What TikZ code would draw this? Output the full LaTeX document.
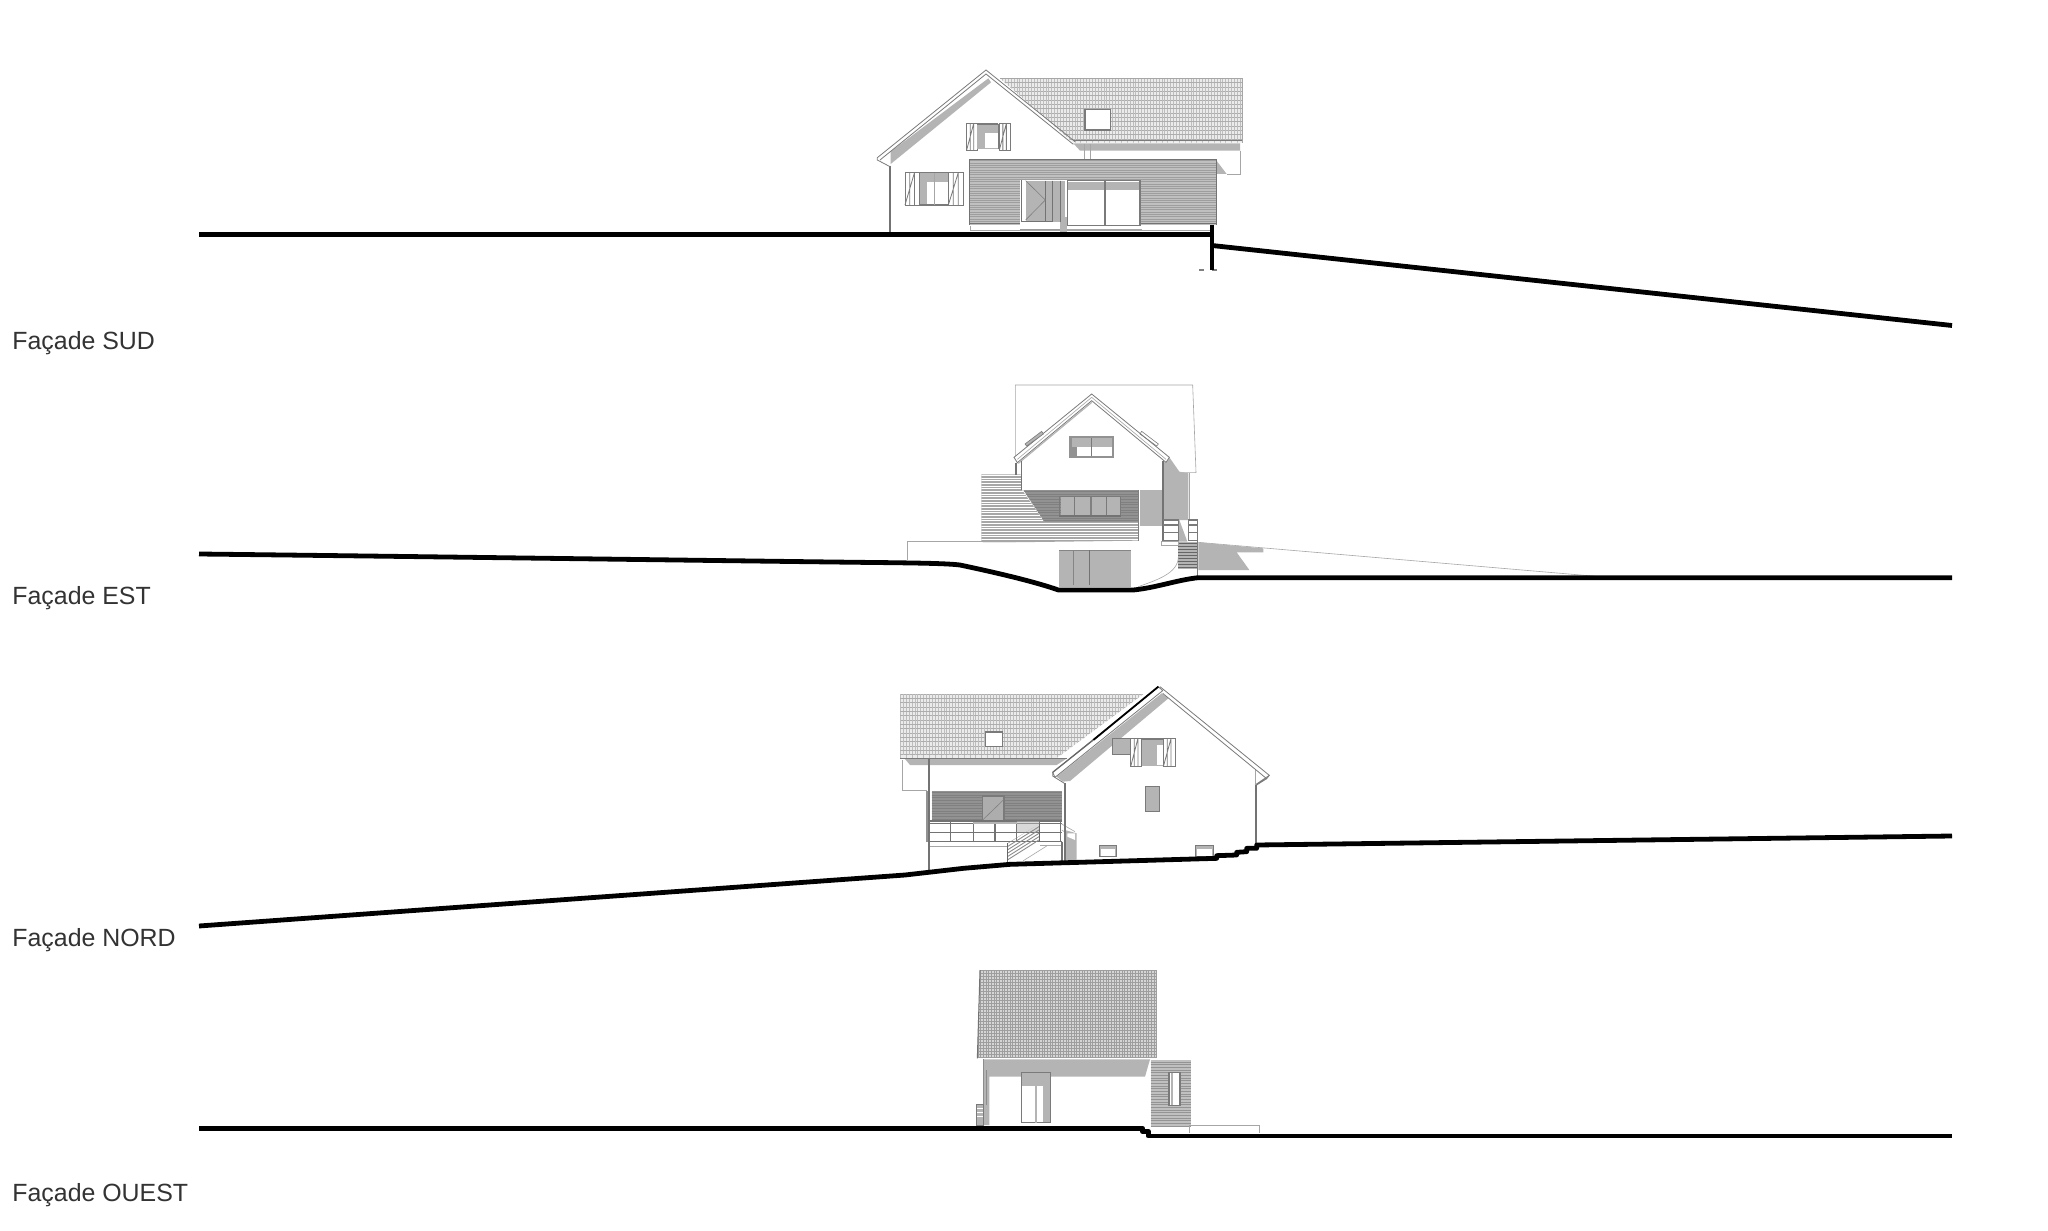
\documentclass[tikz,border=0pt]{standalone}
\usepackage{fontspec}
\setmainfont{Liberation Sans}
\definecolor{greyfill}{HTML}{B4B4B4}
\definecolor{wood}{HTML}{C0C0C0}
\definecolor{woodlight}{HTML}{A6A6A6}
\definecolor{darkwood}{HTML}{929292}
\definecolor{edge}{HTML}{7A7A7A}
\definecolor{labeltext}{HTML}{333333}
\tikzset{
  ground/.style={line width=2.4pt,black,line join=round},
  facadelabel/.style={anchor=west,inner sep=0pt,text=labeltext,font=\fontsize{12.45}{14}\selectfont},
  shadefill/.style={fill=greyfill,draw=none},
  thinline/.style={draw=black!35,line width=.3pt},
  outline/.style={draw=edge,line width=.4pt},
  frame/.style={draw=edge,line width=.7pt},
  post/.style={draw=black!55,line width=.9pt},
}
% horizontal stripes on a box: x1 x2 y1 y2 step colour
\newcommand{\stripebox}[6]{%
  \pgfmathsetmacro{\nexty}{#3+#5}%
  \foreach \yy in {#3,\nexty,...,#4}{\draw[#6,line width=.3pt] (#1,\yy) -- (#2,\yy);}}
% brick roof hatching, region given by clip path
\newcommand{\brickroof}[5]{%
  \begin{scope}
    \clip #5;
    \fill[black!8] (#1,#3) rectangle (#2,#4);
    \pgfmathsetmacro{\nexty}{#3+13}%
    \foreach \yy in {#3,\nexty,...,#4}{%
      \draw[black!32,line width=.25pt] (#1,\yy) -- (#2,\yy);
      \draw[black!26,line width=2pt,dash pattern=on .3pt off 2.6pt] (#1,\yy+6.5) -- (#2,\yy+6.5);
      \draw[black!26,line width=2pt,dash pattern=on .3pt off 2.6pt,dash phase=1.45pt] (#1,\yy-6.5) -- (#2,\yy-6.5);
    }
  \end{scope}}
% shutter: x1 y1 x2 y2
\newcommand{\shutter}[4]{%
  \draw[outline,fill=white] (#1,#2) rectangle (#3,#4);
  \pgfmathsetmacro{\sa}{#1+(#3-#1)*.33}\pgfmathsetmacro{\sb}{#1+(#3-#1)*.66}%
  \draw[outline] (\sa,#2) -- (\sa,#4) (\sb,#2) -- (\sb,#4) (#1,#4) -- (\sb,#2);}
\begin{document}
\begin{tikzpicture}[x=0.5pt,y=-0.5pt]
\useasboundingbox (0,0) rectangle (2048,1230);
\fill[white] (0,0) rectangle (2048,1230);

%% ---------- SUD ----------
\begin{scope}[shift={(860,50)},scale=1/3]
  \brickroof{400}{1146}{85}{278}{(420,85) -- (1146,85) -- (1146,278) -- (640,278) -- cycle}
  \draw[thinline] (420,85) -- (1146,85) -- (1146,278);
  \draw[outline] (640,272) -- (1146,272);
  \fill[shadefill] (640,280) -- (1140,280) -- (1140,302) -- (660,302) -- cycle;
  \draw[thinline] (672,282) -- (672,328) (692,282) -- (692,328);
  \draw[thinline] (1142,302) -- (1142,372) -- (1100,372);
  \fill[shadefill] (1068,330) -- (1100,372) -- (1068,372) -- cycle;
  \draw[frame,fill=white] (675,178) rectangle (752,240);
  % gable
  \fill[shadefill] (92,305) -- (385,85) -- (393,97) -- (92,342) -- cycle;
  \draw[outline] (52,323) -- (378,60) -- (645,275);
  \draw[outline] (60,330) -- (378,72) -- (640,283);
  \draw[outline] (52,323) -- (52,330) -- (90,350);
  \draw[post] (90,348) -- (90,545);
  % wood
  \fill[wood] (328,328) rectangle (1068,525);
  \stripebox{328}{1068}{332}{524}{7}{black!38}
  \draw[black!55,line width=.5pt] (328,328) -- (1068,328) (328,522) -- (1068,522) (328,328) -- (328,525) (1068,328) -- (1068,525);
  \draw[thinline] (332,528) -- (332,540) -- (1050,540);
  % door
  \fill[white] (480,390) rectangle (622,540);
  \fill[greyfill] (497,392) rectangle (615,515);
  \fill[greyfill] (600,500) rectangle (620,545);
  \draw[black!55,line width=.45pt] (484,390) -- (484,515) -- (578,515) (578,392) -- (578,515) (556,392) -- (556,515) (600,392) -- (600,515);
  \draw[black!50,line width=.3pt] (497,392) -- (556,450) -- (497,510);
  \draw[black!40,line width=.3pt] (480,538) -- (600,538);
  % bay
  \fill[white] (622,392) rectangle (840,527);
  \fill[greyfill] (624,396) rectangle (838,420);
  \draw[frame] (622,392) rectangle (840,527);
  \draw[frame] (735,392) -- (735,527);
  \draw[thinline] (622,538) -- (845,538);
  % upper window
  \shutter{320}{220}{352}{300}
  \shutter{418}{220}{450}{300}
  \fill[greyfill] (352,222) rectangle (415,298);
  \fill[white] (375,250) rectangle (413,295);
  \draw[frame] (352,222) -- (415,222) (415,222) -- (415,298);
  % lower window
  \shutter{135}{368}{178}{465}
  \shutter{265}{368}{310}{465}
  \fill[white] (178,368) rectangle (265,465);
  \fill[greyfill] (180,370) rectangle (265,396);
  \fill[greyfill] (180,370) rectangle (200,465);
  \draw[frame] (178,368) rectangle (265,465);
  \draw[thinline] (222,370) -- (222,465);
  % terrain marks
  \draw[black!50,line width=.7pt,dash pattern=on 2.5pt off 4pt] (1018,660) -- (1092,660);
\end{scope}
\draw[ground] (199,234.5) -- (1212,234.5);
\draw[ground] (1212,225) -- (1212,270);
\draw[ground] (1212,245.5) -- (1952,325.5);

%% ---------- EST ----------
\begin{scope}[shift={(890,370)},scale=1/3]
  \draw[thinline] (376,262) -- (376,45) -- (908,45) -- (918,308) -- (868,308);
  \draw[thinline] (898,310) -- (898,450);
  \draw[thinline] (52,570) -- (52,513) -- (275,513);
  \draw[thinline] (925,517) -- (2130,620);
  % right grey mass
  \fill[shadefill] (822,278) -- (838,262) -- (868,305) -- (895,310) -- (895,450) -- (868,450) -- (892,515) -- (866,515) -- (866,450) -- (822,450) -- cycle;
  % wood
  \fill[woodlight] (274,313) -- (392,313) -- (396,360) -- (465,458) -- (745,458) -- (745,512) -- (280,518) -- (274,513) -- cycle;
  \begin{scope}
    \clip (274,313) -- (392,313) -- (396,360) -- (465,458) -- (745,458) -- (745,512) -- (280,518) -- (274,513) -- cycle;
    \stripebox{274}{745}{316}{518}{8}{white}
  \end{scope}
  \fill[darkwood] (400,360) -- (745,360) -- (745,458) -- (465,458) -- cycle;
  \begin{scope}
    \clip (400,360) -- (745,360) -- (745,458) -- (465,458) -- cycle;
    \stripebox{400}{745}{364}{458}{8}{black!50}
  \end{scope}
  \draw[black!50,line width=.5pt] (745,360) -- (745,512);
  \fill[greyfill] (750,360) rectangle (815,467);
  \fill[greyfill] (512,382) rectangle (690,435);
  \draw[frame,line width=.5pt] (508,380) rectangle (692,438);
  \draw[frame,line width=.5pt] (552,380) -- (552,436) (648,380) -- (648,436);
  \draw[black!50,line width=1pt] (602,380) -- (602,436);
  \draw[black!55,line width=.7pt] (508,438) -- (692,438);
  % gable
  \draw[outline,fill=white] (372,262) -- (605,72) -- (838,262) -- (828,277) -- (605,92) -- (382,278) -- cycle;
  \draw[black!35,line width=.3pt] (382,268) -- (605,82) -- (828,268);
  \draw[greyfill,line width=.6pt] (385,280) -- (605,97);
  \fill[shadefill] (405,222) -- (455,184) -- (460,192) -- (410,228) -- cycle;
  \draw[outline,line width=.3pt] (405,222) -- (455,184) -- (460,192) -- (410,228) -- cycle;
  \draw[outline,line width=.3pt] (805,222) -- (755,184) -- (750,192) -- (800,228) -- cycle;
  \draw[post,line width=.6pt] (378,278) -- (378,315) (395,272) -- (395,360);
  \draw[post] (820,272) -- (820,512);
  % upper window
  \fill[darkwood] (538,198) rectangle (672,263);
  \fill[greyfill] (545,205) rectangle (665,232);
  \fill[white] (560,232) rectangle (665,258);
  \draw[frame] (605,205) -- (605,258);
  % stairs and rails
  \fill[greyfill] (865,515) rectangle (922,598);
  \stripebox{865}{922}{521}{598}{9}{black!60}
  \draw[outline,line width=.6pt] (820,450) -- (865,450) -- (865,512) (820,465) -- (865,465) (820,487) -- (865,487) (820,512) -- (865,512);
  \draw[outline,line width=.6pt] (895,450) -- (922,450) -- (922,618) (895,465) -- (922,465) (895,487) -- (922,487) (895,450) -- (895,512) (895,512) -- (922,512);
  \draw[thinline] (815,515) rectangle (865,526);
  \fill[shadefill] (925,517) -- (1120,535) -- (1120,547) -- (1040,547) -- (1078,600) -- (925,600) -- cycle;
  % garage
  \fill[greyfill] (508,540) rectangle (722,650);
  \draw[black!48,line width=.4pt] (508,540) -- (722,540) (550,540) -- (550,645);
  \draw[black!55,line width=.5pt] (598,540) -- (598,645);
  \draw[thinline] (745,650) .. controls (800,630) and (865,610) .. (865,560);
  % ground
  \draw[ground] (-2073,552) .. controls (-1200,562) and (-300,575) .. (0,578)
    .. controls (70,579) and (170,580) .. (210,585)
    .. controls (280,600) and (420,630) .. (505,660)
    -- (730,660) .. controls (800,653) and (860,630) .. (925,623)
    -- (3186,623);
\end{scope}

%% ---------- NORD ----------
\begin{scope}[shift={(880,670)},scale=1/3]
  \brickroof{60}{800}{72}{264}{(60,72) -- (790,72) -- (530,264) -- (60,264) -- cycle}
  \draw[outline] (60,264) -- (560,264);
  \fill[shadefill] (75,267) -- (558,267) -- (530,285) -- (90,285) -- cycle;
  \draw[thinline] (68,270) -- (68,362) -- (140,362);
  \draw[frame,fill=white] (316,186) rectangle (368,230);
  % wood
  \fill[darkwood] (155,363) rectangle (545,450);
  \stripebox{155}{545}{367}{450}{8}{black!50}
  \fill[black!32] (308,378) rectangle (372,450);
  \draw[frame] (308,450) -- (308,378) -- (372,378) -- (372,450);
  \draw[black!50,line width=.3pt] (308,450) -- (372,388);
  \draw[darkwood,line width=1.5pt] (142,362) -- (142,515);
  % railing
  \draw[black!55,line width=.6pt] (150,453) -- (545,453) (150,460) -- (545,460) (150,487) -- (545,487) (150,515) -- (545,515);
  \foreach \xx in {212,280,345,410,478,542}{\draw[black!55,line width=.6pt] (\xx,453) -- (\xx,515);}
  \draw[thinline] (150,530) -- (385,530) (480,527) -- (545,527);
  \draw[greyfill,line width=1pt] (280,460) -- (410,460);
  \fill[greyfill,opacity=.5] (412,453) rectangle (478,487);
  \draw[post] (148,268) -- (148,605);
  % stair
  \begin{scope}
    \clip (382,520) -- (478,462) -- (478,510) -- (382,578) -- cycle;
    \foreach \yy in {520,530,...,640}{\draw[black!45,line width=.45pt] (382,\yy) -- (480,\yy-62);}
  \end{scope}
  \draw[black!60,line width=.5pt] (382,520) -- (382,578) (478,462) -- (478,512);
  \draw[thinline] (430,572) -- (500,528);
  % gable and wall
  \fill[white] (555,340) -- (845,75) -- (1125,315) -- (1125,530) -- (555,575) -- cycle;
  \fill[shadefill] (548,335) -- (570,333) -- (865,85) -- (845,70) -- (530,320) -- cycle;
  \draw[outline,fill=white] (518,307) -- (835,50) -- (848,62) -- (525,322) -- cycle;
  \draw[black,line width=.9pt] (640,210) -- (835,50);
  \draw[black!60,line width=.6pt] (518,307) -- (640,210);
  \draw[outline] (518,307) -- (518,318) -- (553,340);
  \draw[outline] (840,50) -- (1168,316) -- (1160,326) -- (848,70);
  \draw[outline] (1168,316) -- (1125,345) (1160,326) -- (1130,345);
  \draw[thinline] (1125,300) -- (1125,345);
  \draw[post] (1127,345) -- (1127,525);
  \fill[greyfill] (555,480) -- (590,490) -- (590,572) -- (555,575) -- cycle;
  \draw[thinline] (545,462) -- (585,485) (545,480) -- (585,505);
  \fill[white] (562,490) -- (585,490) -- (585,510) -- (562,500) -- cycle;
  \draw[post] (555,340) -- (555,575) (546,515) -- (546,575);
  % windows
  \fill[greyfill] (698,206) rectangle (752,253);
  \draw[frame] (752,206) -- (698,206) -- (698,253) -- (752,253);
  \shutter{752}{205}{785}{290}
  \shutter{850}{205}{885}{290}
  \fill[greyfill] (785,207) rectangle (848,288);
  \fill[white] (830,225) rectangle (848,285);
  \draw[frame] (785,207) -- (848,207) (785,207) -- (785,288);
  \fill[greyfill] (797,350) rectangle (838,425);
  \draw[frame] (797,350) rectangle (838,425);
  \foreach \xx in {657,947}{
    \fill[greyfill] (\xx,527) rectangle (\xx+53,560);
    \fill[white] (\xx+5,537) rectangle (\xx+48,557);
    \draw[outline] (\xx,527) rectangle (\xx+53,560);
  }
  % ground
  \draw[ground] (-2043,768) -- (75,615) -- (250,595) -- (390,583) -- (1010,565) -- (1010,557) -- (1070,555) -- (1070,547) -- (1100,545) -- (1100,535) -- (1130,535) -- (1130,525) -- (3216,498);
\end{scope}

%% ---------- OUEST ----------
\begin{scope}[shift={(950,950)},scale=1/3]
  \begin{scope}
    \clip (90,60) -- (622,60) -- (622,325) -- (82,325) -- cycle;
    \fill[black!16] (80,60) rectangle (622,325);
    \foreach \yy in {62,71,...,325}{\draw[black!38,line width=.32pt] (80,\yy) -- (622,\yy);}
    \foreach \xx in {84,92,...,622}{\draw[black!38,line width=.32pt] (\xx,60) -- (\xx,325);}
  \end{scope}
  \draw[black!55,line width=.5pt] (90,60) -- (82,325);
  \fill[shadefill] (100,328) -- (600,328) -- (585,380) -- (118,380) -- (118,525) -- (100,525) -- cycle;
  \draw[black!45,line width=.5pt] (108,360) -- (108,465);
  \draw[black!45,line width=.4pt] (100,328) -- (100,525);
  % door
  \fill[white] (215,368) rectangle (302,518);
  \fill[greyfill] (215,370) rectangle (302,408);
  \fill[greyfill] (280,370) rectangle (302,518);
  \draw[frame] (215,518) -- (215,368) -- (302,368) -- (302,518) -- cycle;
  \draw[greyfill,line width=.7pt] (258,370) -- (258,518);
  % wood volume
  \fill[wood] (602,330) rectangle (722,532);
  \stripebox{602}{722}{336}{532}{8}{black!42}
  \fill[white] (657,367) rectangle (690,467);
  \draw[frame] (657,367) rectangle (690,467);
  \fill[greyfill] (662,370) rectangle (668,464);
  % small stair
  \fill[greyfill] (78,463) rectangle (100,525);
  \foreach \yy in {475,487,499}{\draw[white,line width=.8pt] (80,\yy) -- (98,\yy);}
  \draw[outline,line width=.3pt] (78,463) rectangle (100,525);
  \draw[thinline] (718,550) -- (718,527) -- (928,527) -- (928,550);
  \draw[ground] (-2253,535) -- (578,535) -- (578,545) -- (595,545) -- (595,558) -- (3006,558);
\end{scope}

\node[facadelabel] (sud) at (12,343.5) {Façade SUD};
\node[facadelabel] (est) at (12,598.5) {Façade EST};
\node[facadelabel] (nord) at (12,940.5) {Façade NORD};
\node[facadelabel] (ouest) at (12,1195.5) {Façade OUEST};
\end{tikzpicture}
\end{document}
